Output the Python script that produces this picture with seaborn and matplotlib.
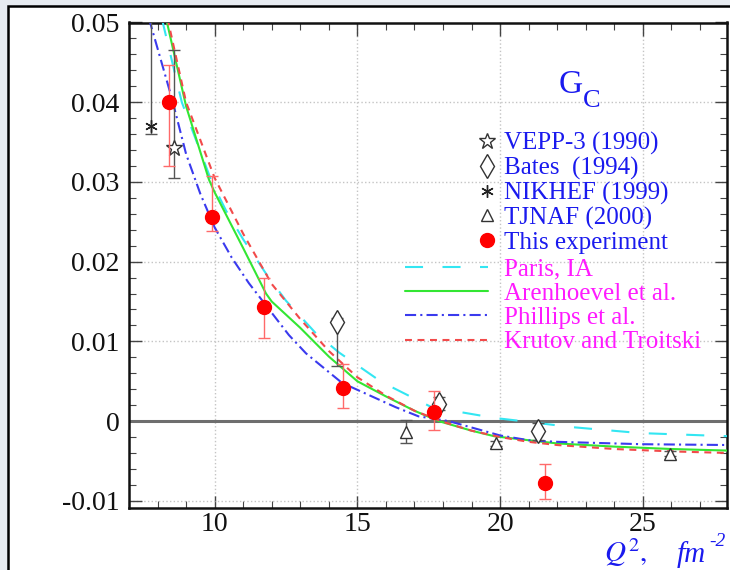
import matplotlib.pyplot as plt
import seaborn as sns
from matplotlib.patches import Rectangle
from matplotlib.lines import Line2D
from matplotlib.ticker import MultipleLocator

# ---- data ----
# this experiment
exp_x = [8.40, 9.90, 11.74, 14.50, 17.67, 21.57]
exp_y = [0.0400, 0.0256, 0.0143, 0.0041, 0.0011, -0.0078]
exp_lo = [0.0080, 0.0017, 0.0039, 0.0025, 0.0022, 0.0020]
exp_hi = [0.0047, 0.0051, 0.0036, 0.0031, 0.0027, 0.0024]

vepp_x = [8.57]
vepp_y = [0.0343]
vepp_lo = [0.0038]
vepp_hi = [0.0122]

bates_x = [14.29, 17.85, 21.33]
bates_y = [0.0124, 0.0021, -0.0013]
bates_lo = [0.0055, 0.0007, 0.0011]
bates_hi = [0.0005, 0.0009, 0.0010]

nikhef_x = [7.77]
nikhef_y = [0.0370]
nikhef_lo = [0.0010]
nikhef_hi = [0.0150]

tjnaf_x = [16.72, 19.86, 25.95]
tjnaf_y = [-0.0014, -0.0028, -0.0041]
tjnaf_lo = [0.0013, 0.0003, 0.0003]
tjnaf_hi = [0.0016, 0.0003, 0.0003]

# theory curves
paris_x = [8.15, 8.85, 9.9, 10.4, 11.0, 11.8, 12.5, 13.55, 14.36, 15.85, 17.6, 19.8, 21.0, 22.5, 24.9, 28.0]
paris_y = [0.0505, 0.0400, 0.0300, 0.0264, 0.0228, 0.0185, 0.0151, 0.0110, 0.0086, 0.0049, 0.00175, 0.0004, -0.0001, -0.00075, -0.0015, -0.0019]

aren_x = [8.3, 9.0, 9.8, 10.0, 11.0, 11.8, 12.0, 13.0, 14.0, 15.0, 16.0, 17.0, 17.85, 19.0, 19.8, 21.0, 22.0, 24.0, 26.0, 28.0]
aren_y = [0.0505, 0.0395, 0.0303, 0.0287, 0.0217, 0.0160, 0.0150, 0.0117, 0.0081, 0.0050, 0.0031, 0.0013, 0.0, -0.0012, -0.0019, -0.0024, -0.0028, -0.0032, -0.0035, -0.0037]

phil_x = [7.7, 8.5, 9.0, 9.5, 10.0, 10.6, 11.2, 12.6, 13.2, 14.46, 16.34, 17.14, 18.2, 20.0, 21.0, 22.0, 25.0, 28.0]
phil_y = [0.0505, 0.0405, 0.0335, 0.0285, 0.0243, 0.0205, 0.0173, 0.0108, 0.0085, 0.0048, 0.00175, 0.0006, 0.0, -0.0018, -0.0024, -0.0026, -0.0029, -0.0030]

krut_x = [8.35, 9.0, 10.0, 11.0, 12.0, 13.0, 14.0, 15.0, 16.0, 17.0, 18.0, 19.0, 20.0, 21.0, 22.0, 24.0, 26.0, 28.0]
krut_y = [0.0505, 0.0400, 0.0305, 0.0235, 0.0172, 0.0128, 0.0088, 0.0055, 0.0032, 0.0013, -0.0001, -0.0012, -0.0020, -0.0026, -0.0030, -0.0035, -0.0038, -0.0040]

xtick_vals = [10, 15, 20, 25]
ytick_vals = [-0.01, 0.0, 0.01, 0.02, 0.03, 0.04, 0.05]
ytick_labels = ["-0.01", "0", "0.01", "0.02", "0.03", "0.04", "0.05"]

data_labels = ["VEPP-3 (1990)", "Bates  (1994)", "NIKHEF (1999)", "TJNAF (2000)", "This experiment"]
theory_labels = ["Paris, IA", "Arenhoevel et al.", "Phillips et al.", "Krutov and Troitski"]

# ---- style ----
sns.set_theme(style="ticks")
plt.rcParams['font.family'] = ['Liberation Serif', 'DejaVu Serif']
plt.rcParams['mathtext.fontset'] = 'stix'
plt.rcParams['lines.scale_dashes'] = False

BLUE = '#1a1aee'
MAGENTA = '#ff1aff'
CYAN = '#33e6f2'
GREEN = '#33e633'
LBLUE = '#3a3aee'
RED = '#f24a4a'

fig = plt.figure(figsize=(7.3, 5.7), dpi=100, facecolor='#e7ebf1')
fig.patches.append(Rectangle((8 / 730, -0.2), 1.2, 1.2 - 6 / 570,
                             transform=fig.transFigure, facecolor='white',
                             edgecolor='black', lw=1.8, zorder=-10))
ax = fig.add_axes([129 / 730, 1 - 508 / 570, (727 - 129) / 730, (508 - 22.5) / 570])
ax.set_facecolor('white')

# theory curves
ls_paris = (0, (13, 14))
ls_aren = '-'
ls_phil = (0, (8, 3, 1.5, 3))
ls_krut = (0, (5, 4))
sns.lineplot(x=paris_x, y=paris_y, color=CYAN, lw=1.5, linestyle=ls_paris, sort=False, ax=ax, zorder=3)
sns.lineplot(x=aren_x, y=aren_y, color=GREEN, lw=1.5, linestyle=ls_aren, sort=False, ax=ax, zorder=3)
sns.lineplot(x=phil_x, y=phil_y, color=LBLUE, lw=1.5, linestyle=ls_phil, sort=False, ax=ax, zorder=3)
sns.lineplot(x=krut_x, y=krut_y, color=RED, lw=1.5, linestyle=ls_krut, sort=False, ax=ax, zorder=3)

# data with error bars
def draw(x, y, lo, hi, marker, ms, ecol, face, edge, z=4):
    ax.errorbar(x, y, yerr=[lo, hi], fmt='none', ecolor=ecol, elinewidth=1.0,
                capsize=4.5, capthick=1.0, zorder=z)
    ax.plot(x, y, ls='none', marker=marker, ms=ms, mfc=face, mec=edge, mew=1.0, zorder=z + 1)

draw(vepp_x, vepp_y, vepp_lo, vepp_hi, '*', 12, '#555555', 'white', '#333333')
draw(bates_x, bates_y, bates_lo, bates_hi, 'd', 12, '#555555', 'white', '#333333')
draw(nikhef_x, nikhef_y, nikhef_lo, nikhef_hi, (6, 2, 0), 9, '#555555', 'white', '#222222')
draw(tjnaf_x, tjnaf_y, tjnaf_lo, tjnaf_hi, '^', 9, '#555555', 'white', '#333333')
draw(exp_x, exp_y, exp_lo, exp_hi, 'o', 10, '#ff6a6a', 'red', 'red', z=6)

ax.axhline(0, color='#6e6e6e', lw=2.2, zorder=2)

ax.set_xlim(7.0, 27.95)
ax.set_ylim(-0.0109, 0.0500)
ax.set_xticks(xtick_vals)
ax.set_yticks(ytick_vals)
ax.set_yticklabels(ytick_labels)
ax.xaxis.set_minor_locator(MultipleLocator(1))
ax.yaxis.set_minor_locator(MultipleLocator(0.002))
ax.grid(True, which='major', color='#c4c4c4', ls=':', lw=1.0)
ax.tick_params(which='both', direction='in', top=True, right=True, colors='#444444',
               labelcolor='#111111', labelsize=20)
ax.tick_params(which='major', length=9, width=1.0)
ax.tick_params(which='minor', length=5, width=0.8)
ax.tick_params(axis='y', pad=7)
ax.tick_params(axis='x', pad=3)
for s in ax.spines.values():
    s.set_color('#111111')
    s.set_linewidth(1.8)
ax.set_xlabel('')
ax.set_ylabel('')

# legends
mk_handles = [
    Line2D([], [], ls='none', marker='*', ms=12, mfc='white', mec='#333333'),
    Line2D([], [], ls='none', marker='d', ms=12, mfc='white', mec='#333333'),
    Line2D([], [], ls='none', marker=(6, 2, 0), ms=9, mec='#222222'),
    Line2D([], [], ls='none', marker='^', ms=8, mfc='white', mec='#333333'),
    Line2D([], [], ls='none', marker='o', ms=10, mfc='red', mec='red'),
]
leg1 = ax.legend(mk_handles, data_labels, loc='upper left', frameon=False,
                 bbox_to_anchor=(478 / 730, 1 - 132 / 570), bbox_transform=fig.transFigure,
                 fontsize=18, handlelength=0.75, handletextpad=0.28, borderpad=0,
                 borderaxespad=0, labelspacing=0.07)
for t in leg1.get_texts():
    t.set_color(BLUE)
ax.add_artist(leg1)

ln_handles = [
    Line2D([], [], color=CYAN, lw=1.5, ls=ls_paris),
    Line2D([], [], color=GREEN, lw=1.5, ls=ls_aren),
    Line2D([], [], color=LBLUE, lw=1.5, ls=ls_phil),
    Line2D([], [], color=RED, lw=1.5, ls=ls_krut),
]
leg2 = ax.legend(ln_handles, theory_labels, loc='upper left', frameon=False,
                 bbox_to_anchor=(405 / 730, 1 - 258 / 570), bbox_transform=fig.transFigure,
                 fontsize=18, handlelength=3.3, handletextpad=0.65, borderpad=0,
                 borderaxespad=0, labelspacing=0.07)
for t in leg2.get_texts():
    t.set_color(MAGENTA)

# title G_C
fig.text(559 / 730, 1 - 93 / 570, 'G', fontsize=24, color=BLUE, va='baseline')
fig.text(583 / 730, 1 - 107 / 570, 'C', fontsize=19, color=BLUE, va='baseline')

# axis label
fig.text(604 / 730, 1 - 562 / 570, r'$Q^2,$', fontsize=21, color=BLUE, va='baseline')
fig.text(677 / 730, 1 - 562 / 570, 'fm', fontsize=21, color=BLUE, style='italic', va='baseline')
fig.text(709 / 730, 1 - 546 / 570, '-2', fontsize=14, color=BLUE, style='italic', va='baseline')

fig.savefig('out.png', dpi=100, facecolor=fig.get_facecolor())
